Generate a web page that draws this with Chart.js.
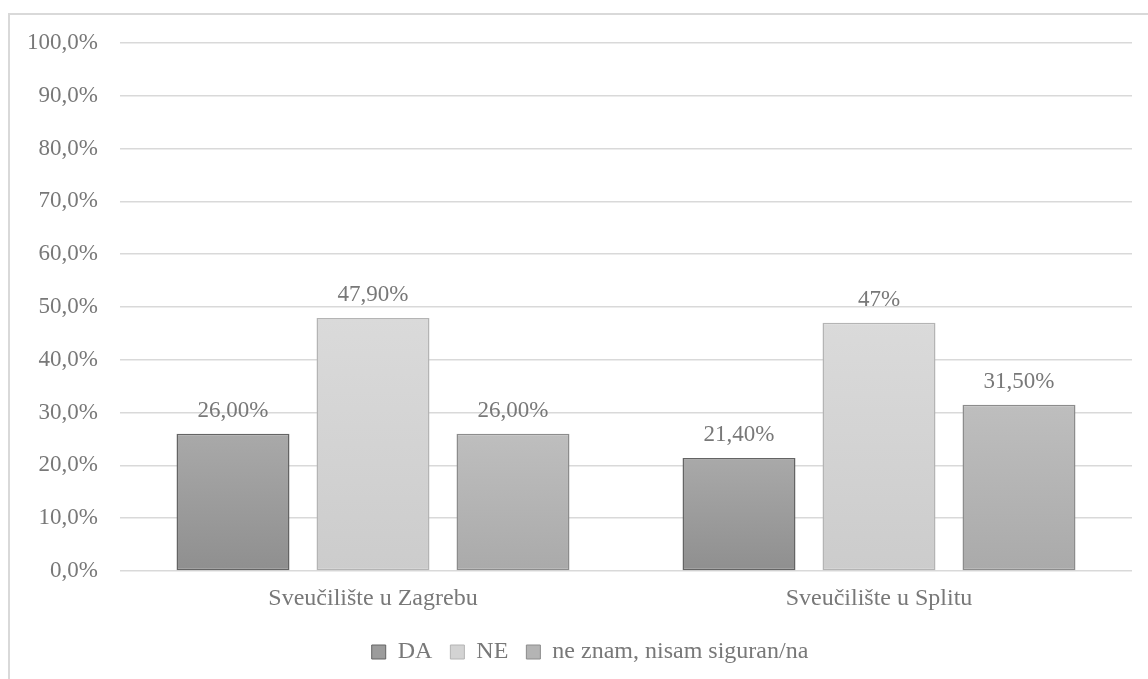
<!DOCTYPE html>
<html lang="hr">
<head>
<meta charset="UTF-8">
<title>Sveučilište u Zagrebu / Sveučilište u Splitu</title>
<script src="https://cdn.jsdelivr.net/npm/chart.js"></script>
<style>
  * { margin: 0; padding: 0; box-sizing: border-box; }
  body { width: 1148px; height: 679px; overflow: hidden; background: #fff; position: relative; }
  .frame { position: absolute; left: 8px; top: 13px; width: 1200px; height: 720px; border: 2px solid #d9d9d9; }
  #chart { position: absolute; left: 0; top: 0; }
</style>
</head>
<body>
<div class="frame"></div>
<canvas id="chart" width="1148" height="679"></canvas>
<script>
  const categories = ['Sveučilište u Zagrebu', 'Sveučilište u Splitu'];
  const seriesNames = ['DA', 'NE', 'ne znam, nisam siguran/na'];
  const daValues = [26.0, 21.4];
  const neValues = [47.9, 47.0];
  const neZnamValues = [26.0, 31.5];
  const daLabels = ['26,00%', '21,40%'];
  const neLabels = ['47,90%', '47%'];
  const neZnamLabels = ['26,00%', '31,50%'];
  const yTicks = [0, 10, 20, 30, 40, 50, 60, 70, 80, 90, 100];
  const yTickLabels = ['0,0%', '10,0%', '20,0%', '30,0%', '40,0%', '50,0%', '60,0%', '70,0%', '80,0%', '90,0%', '100,0%'];

  const FONT = '"Liberation Serif", "Times New Roman", serif';
  const TEXT = '#787878';
  const GRID = '#d9d9d9';

  // vertical gradient from the bar's top to the zero line
  function barGradient(top, bottom) {
    return (ctx) => {
      const chart = ctx.chart;
      if (!chart.chartArea || ctx.type !== 'data') return bottom;
      const y = chart.scales.y;
      const g = chart.ctx.createLinearGradient(0, y.getPixelForValue(ctx.raw), 0, y.getPixelForValue(0));
      g.addColorStop(0, top);
      g.addColorStop(1, bottom);
      return g;
    };
  }

  const series = [
    { name: seriesNames[0], data: daValues, labels: daLabels, top: '#a9a9a9', bottom: '#8f8f8f', border: '#646464', legend: '#9c9c9c' },
    { name: seriesNames[1], data: neValues, labels: neLabels, top: '#dadada', bottom: '#cccccc', border: '#b4b4b4', legend: '#d3d3d3' },
    { name: seriesNames[2], data: neZnamValues, labels: neZnamLabels, top: '#bebebe', bottom: '#aaaaaa', border: '#8c8c8c', legend: '#b4b4b4' }
  ];

  // value labels above the bars
  const barLabels = {
    id: 'barLabels',
    afterDatasetsDraw(chart) {
      const c = chart.ctx;
      c.save();
      c.font = '23px ' + FONT;
      c.fillStyle = TEXT;
      c.textAlign = 'center';
      c.textBaseline = 'middle';
      chart.data.datasets.forEach((ds, i) => {
        chart.getDatasetMeta(i).data.forEach((bar, j) => {
          c.fillText(ds.valueLabels[j], bar.x, bar.y - 23);
        });
      });
      c.restore();
    }
  };

  // the original legend sits a little right of centre
  const legendShift = {
    id: 'legendShift',
    afterLayout(chart) {
      chart.legend.left += 24;
      chart.legend.right += 24;
    }
  };

  new Chart(document.getElementById('chart'), {
    type: 'bar',
    data: {
      labels: categories,
      datasets: series.map(s => ({
        label: s.name,
        data: s.data,
        valueLabels: s.labels,
        backgroundColor: barGradient(s.top, s.bottom),
        borderColor: s.border,
        borderWidth: 1.5,
        borderSkipped: false,
        categoryPercentage: 0.83,
        barPercentage: 0.807
      }))
    },
    options: {
      responsive: false,
      animation: false,
      layout: { padding: { top: 43, right: 16, left: 0, bottom: 5 } },
      plugins: {
        tooltip: { enabled: false },
        legend: {
          position: 'bottom',
          labels: {
            color: TEXT,
            font: { family: FONT, size: 24 },
            boxWidth: 14,
            boxHeight: 14,
            padding: 18,
            generateLabels: () => series.map((s, i) => ({
              text: s.name,
              fillStyle: s.legend,
              strokeStyle: s.border,
              lineWidth: 1,
              fontColor: TEXT,
              datasetIndex: i
            }))
          }
        }
      },
      scales: {
        y: {
          min: 0,
          max: 100,
          afterBuildTicks: (scale) => { scale.ticks = yTicks.map(v => ({ value: v })); },
          afterFit: (scale) => { scale.width = 120; },
          ticks: {
            color: TEXT,
            font: { family: FONT, size: 23 },
            padding: 22,
            callback: (v) => yTickLabels[yTicks.indexOf(v)]
          },
          grid: { color: GRID, lineWidth: 1.5, drawTicks: false },
          border: { display: false }
        },
        x: {
          afterFit: (scale) => { scale.height = 51; },
          ticks: {
            color: TEXT,
            font: { family: FONT, size: 24 },
            padding: 5
          },
          grid: { display: false },
          border: { display: false }
        }
      }
    },
    plugins: [barLabels, legendShift]
  });
</script>
</body>
</html>
